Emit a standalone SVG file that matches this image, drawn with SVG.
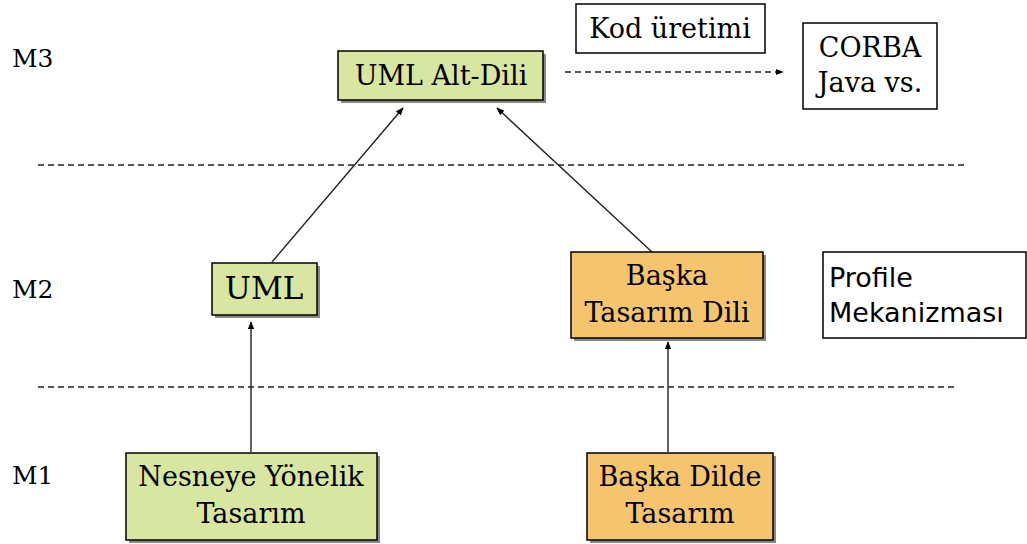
<svg xmlns="http://www.w3.org/2000/svg" width="1027" height="544" viewBox="0 0 1027 544">
<style>
.t{font-family:"DejaVu Serif","Liberation Serif",serif;font-size:27px;fill:#000;text-anchor:middle}
.lvl{font-family:"DejaVu Serif","Liberation Serif",serif;font-size:25px;fill:#000}
.s{font-family:"DejaVu Sans","Liberation Sans",sans-serif;font-size:27px;fill:#000}
.g{fill:#d8e6a2;stroke:#000;stroke-width:1.5}
.o{fill:#f4c56e;stroke:#000;stroke-width:1.5}
.w{fill:#fff;stroke:#000;stroke-width:1.5}
.sh{fill:#888}
.c{stroke:#222;stroke-width:1.4;fill:none;marker-end:url(#ah)}
.d{stroke:#222;stroke-width:1.3;stroke-dasharray:6 4;fill:none}
</style>
<defs>
<marker id="ah" viewBox="0 0 10 10" refX="9" refY="5" markerWidth="8" markerHeight="8" orient="auto" markerUnits="userSpaceOnUse">
<path d="M0,1 L10,5 L0,9 z" fill="#000"/>
</marker>
</defs>
<rect width="1027" height="544" fill="#fff"/>
<g id="levels">
<text class="lvl" x="12" y="67">M3</text>
<text class="lvl" x="12" y="298">M2</text>
<text class="lvl" x="12" y="484">M1</text>
</g>
<g id="separators">
<line class="d" x1="38" y1="165" x2="966" y2="165"/>
<line class="d" x1="38" y1="387" x2="956" y2="387"/>
</g>
<g id="connectors">
<line class="c" x1="272" y1="262" x2="403" y2="108"/>
<line class="c" x1="652" y1="252" x2="497" y2="108"/>
<line class="c" x1="251" y1="452" x2="251" y2="322"/>
<line class="c" x1="668" y1="452" x2="668" y2="342"/>
<line class="d" x1="565" y1="72" x2="783" y2="72" style="marker-end:url(#ah)"/>
</g>
<g id="uml-alt-dili">
<rect class="sh" x="341" y="54" width="205" height="49"/>
<rect class="g" x="338" y="51" width="205" height="49"/>
<text class="t" x="441" y="85">UML Alt-Dili</text>
</g>
<g id="kod-uretimi">
<rect class="w" x="576" y="4" width="189" height="49"/>
<text class="t" x="670" y="38">Kod üretimi</text>
</g>
<g id="corba">
<rect class="w" x="803" y="23" width="134" height="86"/>
<text class="t" x="870" y="57">CORBA</text>
<text class="t" x="870" y="92">Java vs.</text>
</g>
<g id="uml">
<rect class="sh" x="215" y="266" width="105" height="52"/>
<rect class="g" x="212" y="263" width="105" height="52"/>
<text class="t" x="264" y="299" style="font-size:31px">UML</text>
</g>
<g id="baska-tasarim-dili">
<rect class="sh" x="574" y="255" width="192" height="86"/>
<rect class="o" x="571" y="252" width="192" height="86"/>
<text class="t" x="667" y="285">Başka</text>
<text class="t" x="667" y="322">Tasarım Dili</text>
</g>
<g id="profile">
<rect class="w" x="823" y="252" width="203" height="86"/>
<text class="s" x="829" y="287">Profile</text>
<text class="s" x="829" y="322">Mekanizması</text>
</g>
<g id="nesneye">
<rect class="sh" x="129" y="456" width="251" height="87"/>
<rect class="g" x="126" y="453" width="251" height="87"/>
<text class="t" x="251" y="486">Nesneye Yönelik</text>
<text class="t" x="251" y="523">Tasarım</text>
</g>
<g id="baska-dilde">
<rect class="sh" x="590" y="456" width="186" height="87"/>
<rect class="o" x="587" y="453" width="186" height="87"/>
<text class="t" x="680" y="486">Başka Dilde</text>
<text class="t" x="680" y="523">Tasarım</text>
</g>
</svg>
